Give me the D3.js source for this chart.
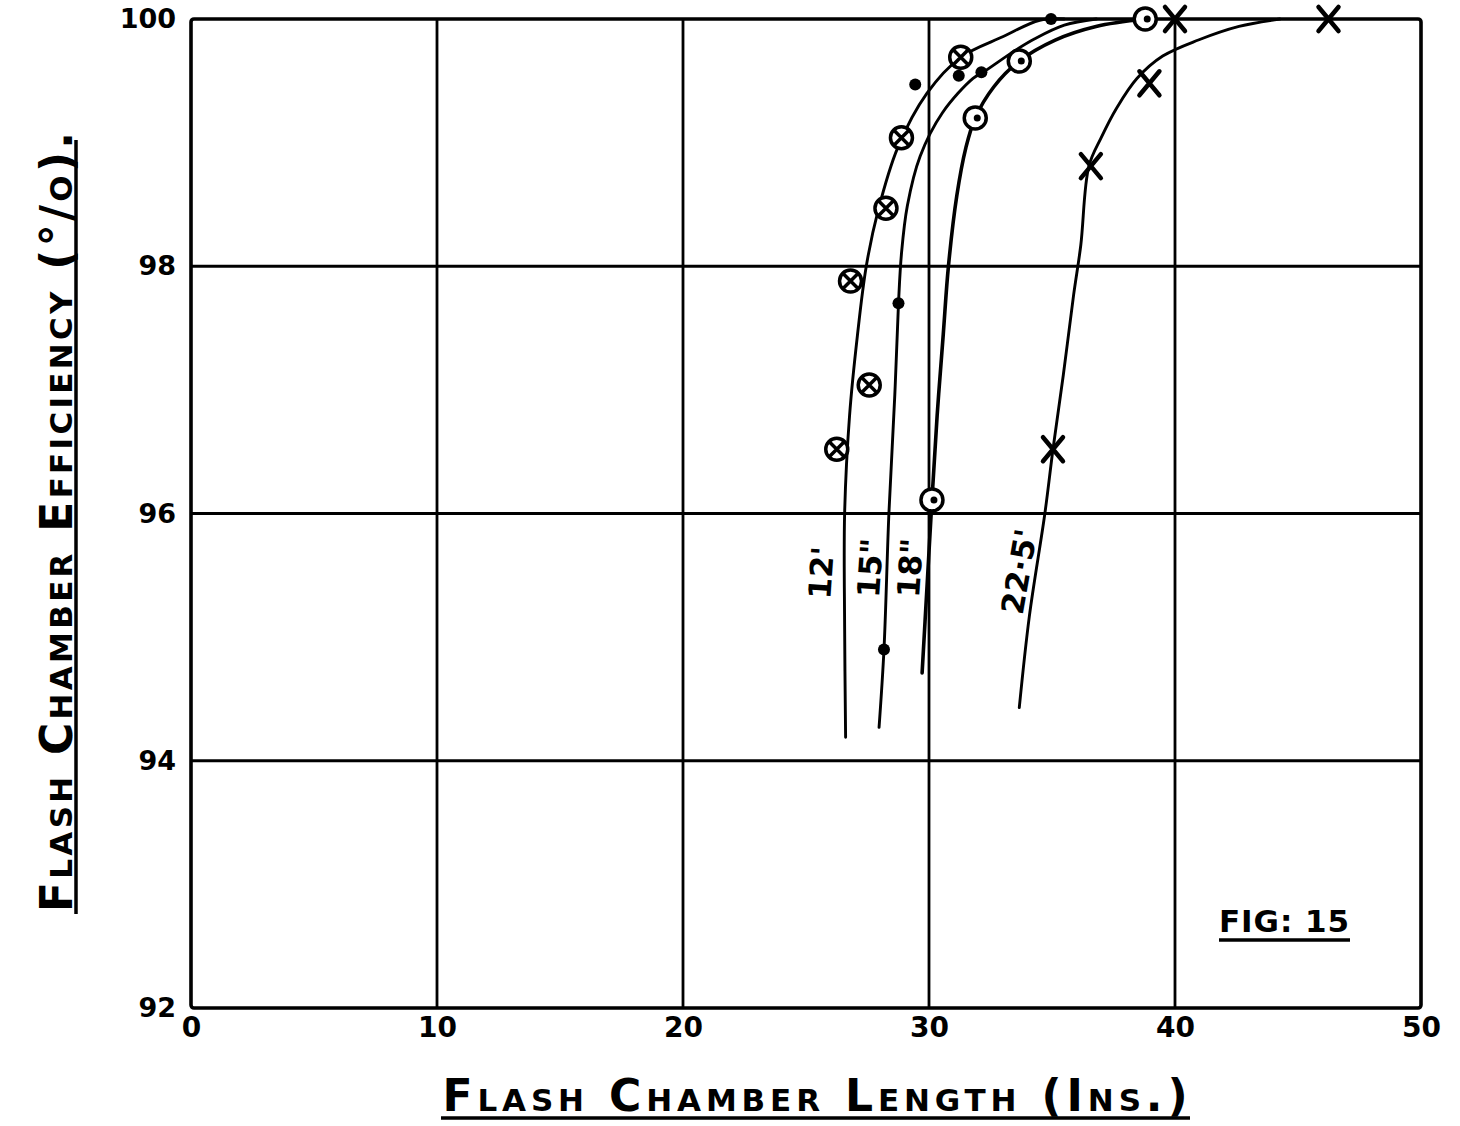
<!DOCTYPE html>
<html>
<head>
<meta charset="utf-8">
<script src="https://cdn.jsdelivr.net/npm/d3@7"></script>
<style>
body { margin: 0; background: #fff; }
svg { display: block; }
text { font-family: "DejaVu Sans", sans-serif; fill: #000; }
</style>
</head>
<body>
<svg id="fig" width="1460" height="1126"></svg>
<script>
// axis ticks
var xTicks = [0, 10, 20, 30, 40, 50];
var yTicks = [92, 94, 96, 98, 100];

// measured points (length in ins, efficiency %)
var pts12 = [[26.25, 96.52], [27.57, 97.04], [26.81, 97.88], [28.25, 98.47], [28.88, 99.04], [31.29, 99.69]];
var pts15 = [[28.17, 94.90], [28.76, 97.70], [29.44, 99.47], [31.21, 99.54], [32.13, 99.57], [34.96, 100]];
var pts18 = [[30.12, 96.11], [31.88, 99.20], [33.67, 99.66], [38.79, 100]];
var pts225 = [[35.04, 96.52], [36.58, 98.81], [38.96, 99.48], [40.0, 100], [46.24, 100]];

// hand drawn curves
var curve12 = [[26.61, 94.19], [26.57, 95.09], [26.57, 96.0], [26.77, 96.79], [27.09, 97.44], [27.45, 98.0],
    [27.93, 98.45], [28.73, 98.96], [29.92, 99.40], [31.29, 99.69], [33.04, 99.86], [34.5, 99.99], [35.5, 100]];
var curve15 = [[27.97, 94.27], [28.17, 94.90], [28.37, 96.0], [28.61, 96.96], [28.76, 97.70], [28.88, 98.10],
    [29.12, 98.49], [29.64, 98.89], [30.54, 99.24], [31.79, 99.52], [32.21, 99.57], [33.46, 99.74], [34.3, 99.84],
    [35.5, 99.95], [36.8, 100]];
var curve18 = [[29.72, 94.71], [29.92, 95.41], [30.12, 96.11], [30.33, 96.79], [30.58, 97.45], [30.79, 98.0],
    [31.13, 98.57], [31.5, 98.96], [31.88, 99.20], [32.63, 99.45], [33.67, 99.66], [35.13, 99.83], [36.79, 99.94], [38.79, 100]];
var curve225 = [[33.67, 94.43], [34.08, 95.17], [34.71, 96.0], [35.04, 96.52], [35.46, 97.12], [35.88, 97.77],
    [36.17, 98.17], [36.5, 98.81], [37.0, 99.04], [37.63, 99.28], [38.46, 99.52], [39.5, 99.7], [40.95, 99.83],
    [42.6, 99.94], [44.26, 100]];

var curveNames = ["12'", "15\"", "18\"", "22·5'"];
var nameAt = [[25.62, 95.52], [27.61, 95.56], [29.24, 95.56], [33.67, 95.53]];
var nameTilt = [-86, -86, -86, -80];

var svg = d3.select("#fig");

var x = d3.scaleLinear().domain([0, 50]).range([191, 1421]);
var y = d3.scaleLinear().domain([92, 100]).range([1008, 19]);

// grid
var grid = svg.append("g").attr("stroke", "#000").attr("stroke-width", 2.8);
grid.selectAll("line.v").data(xTicks.slice(1, -1)).enter().append("line")
    .attr("x1", d => x(d)).attr("x2", d => x(d))
    .attr("y1", y(92)).attr("y2", y(100));
grid.selectAll("line.h").data(yTicks.slice(1, -1)).enter().append("line")
    .attr("x1", x(0)).attr("x2", x(50))
    .attr("y1", d => y(d)).attr("y2", d => y(d));

// frame
svg.append("rect")
    .attr("x", x(0)).attr("y", y(100))
    .attr("width", x(50) - x(0)).attr("height", y(92) - y(100))
    .attr("rx", 3)
    .attr("fill", "none").attr("stroke", "#000").attr("stroke-width", 3.6);

// axes, only for the tick labels
var xAxis = d3.axisBottom(x).tickValues(xTicks).tickSize(0).tickPadding(9);
var gx = svg.append("g").attr("transform", "translate(0," + y(92) + ")").call(xAxis);
gx.select(".domain").remove();
gx.selectAll("text").style("font-size", "28px").style("font-weight", "bold")
    .style("font-family", "'DejaVu Sans', sans-serif");

var yAxis = d3.axisLeft(y).tickValues(yTicks).tickSize(0).tickPadding(15);
var gy = svg.append("g").attr("transform", "translate(" + x(0) + ",0)").call(yAxis);
gy.select(".domain").remove();
gy.selectAll("text").style("font-size", "27px").style("font-weight", "bold")
    .style("font-family", "'DejaVu Sans', sans-serif");

// curves
var line = d3.line()
    .x(d => x(d[0]))
    .y(d => y(d[1]))
    .curve(d3.curveCatmullRom.alpha(0.5));

[curve12, curve15, curve18, curve225].forEach(function (c, i) {
    svg.append("path")
        .attr("d", line(c))
        .attr("fill", "none")
        .attr("stroke", "#000")
        .attr("stroke-width", i == 2 ? 3.6 : 2.9)
        .attr("stroke-linecap", "round");
});

// curve names
curveNames.forEach(function (name, i) {
    svg.append("text")
        .attr("transform", "translate(" + x(nameAt[i][0]) + "," + y(nameAt[i][1]) + ") rotate(" + nameTilt[i] + ")")
        .attr("text-anchor", "middle")
        .attr("dy", "0.35em")
        .style("font-size", "31px")
        .style("font-weight", "bold")
        .text(name);
});

// markers: circled cross
var m12 = svg.append("g").selectAll("g").data(pts12).enter().append("g")
    .attr("transform", d => "translate(" + x(d[0]) + "," + y(d[1]) + ")");
m12.append("circle").attr("r", 11).attr("fill", "#fff").attr("stroke", "#000").attr("stroke-width", 3.5);
m12.append("path").attr("d", "M-8,-8L8,8M-8,8L8,-8").attr("stroke", "#000").attr("stroke-width", 3.5);

// markers: dots
svg.append("g").selectAll("circle").data(pts15).enter().append("circle")
    .attr("cx", d => x(d[0])).attr("cy", d => y(d[1]))
    .attr("r", 6).attr("fill", "#000");

// markers: open circle with a point
var m18 = svg.append("g").selectAll("g").data(pts18).enter().append("g")
    .attr("transform", d => "translate(" + x(d[0]) + "," + y(d[1]) + ")");
m18.append("circle").attr("r", 11).attr("fill", "#fff").attr("stroke", "#000").attr("stroke-width", 3.5);
m18.append("circle").attr("r", 3.5).attr("cx", 2).attr("fill", "#000");

// markers: crosses
svg.append("g").selectAll("path").data(pts225).enter().append("path")
    .attr("transform", d => "translate(" + x(d[0]) + "," + y(d[1]) + ")")
    .attr("d", "M-10,-12L10,12M-10,12L10,-12")
    .attr("stroke", "#000").attr("stroke-width", 4.5).attr("stroke-linecap", "round");

// axis titles
svg.append("text")
    .attr("x", 815).attr("y", 1111)
    .attr("text-anchor", "middle")
    .attr("textLength", 745)
    .attr("lengthAdjust", "spacing")
    .style("font-size", "44px")
    .style("font-weight", "bold")
    .style("font-variant", "small-caps")
    .text("Flash Chamber Length (Ins.)");
svg.append("line").attr("x1", 441).attr("x2", 1190)
    .attr("y1", 1118).attr("y2", 1118).attr("stroke", "#000").attr("stroke-width", 3.5);

svg.append("text")
    .attr("transform", "translate(72,522) rotate(-90)")
    .attr("text-anchor", "middle")
    .attr("textLength", 780)
    .attr("lengthAdjust", "spacing")
    .style("font-size", "44px")
    .style("font-weight", "bold")
    .style("font-variant", "small-caps")
    .text("Flash Chamber Efficiency (°/o).");
svg.append("line").attr("x1", 76).attr("x2", 76)
    .attr("y1", 140).attr("y2", 914)
    .attr("stroke", "#000").attr("stroke-width", 3.5);

// figure number
svg.append("text")
    .attr("x", 1284).attr("y", 932)
    .attr("text-anchor", "middle")
    .attr("textLength", 130)
    .attr("lengthAdjust", "spacing")
    .style("font-size", "31px")
    .style("font-weight", "bold")
    .text("FIG: 15");
svg.append("line").attr("x1", 1219).attr("x2", 1350)
    .attr("y1", 940).attr("y2", 940).attr("stroke", "#000").attr("stroke-width", 3.5);
</script>
</body>
</html>
